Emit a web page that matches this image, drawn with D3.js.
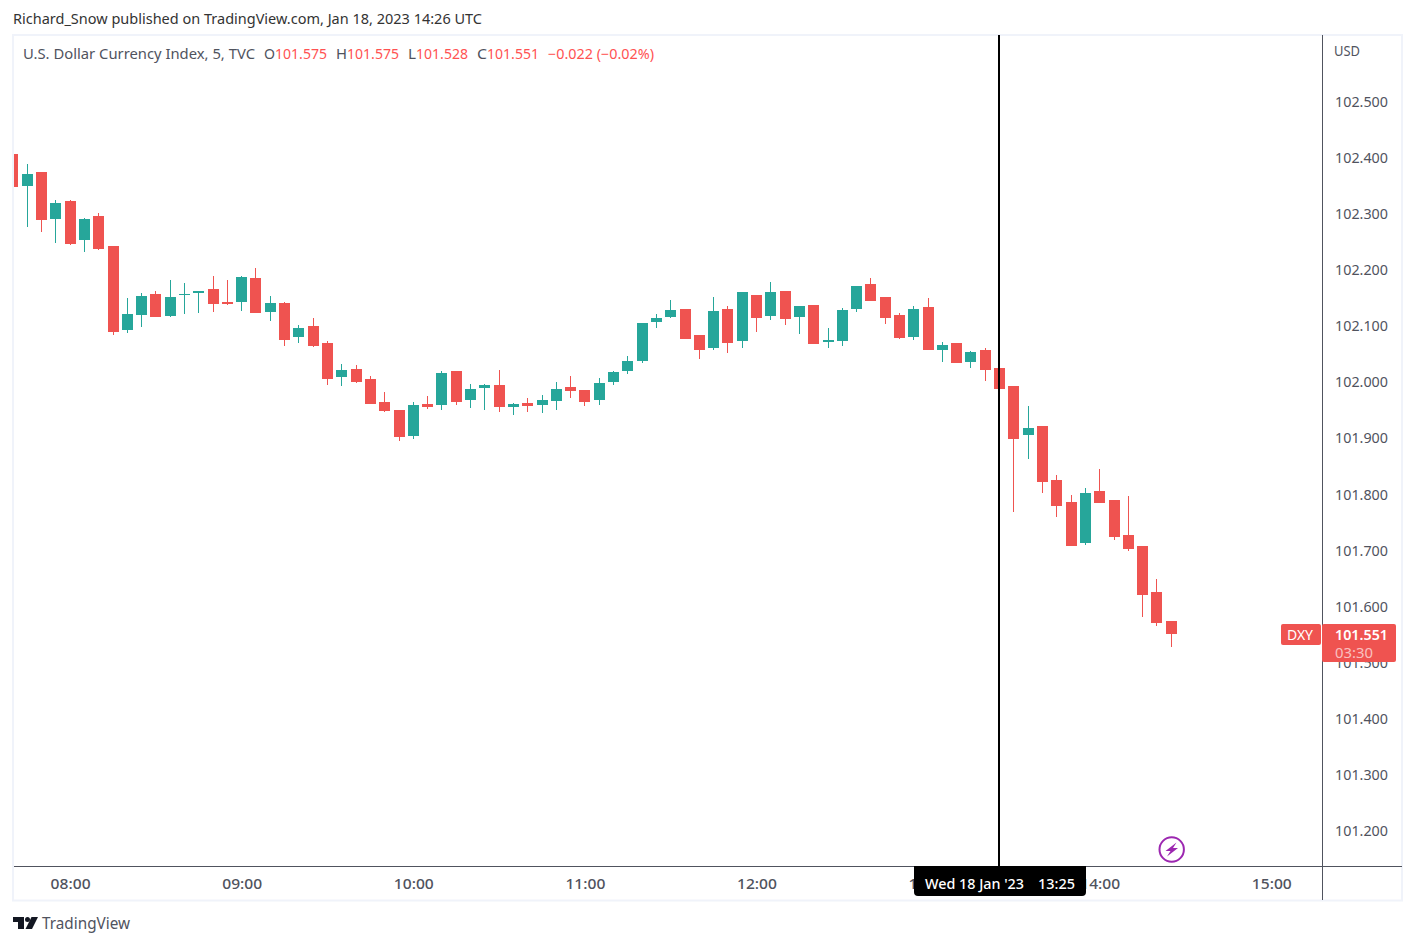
<!DOCTYPE html>
<html><head><meta charset="utf-8">
<script src="https://d3js.org/d3.v7.min.js"></script>
<style>html,body{margin:0;padding:0;background:#fff}svg{display:block}text{font-family:"Noto Sans",sans-serif}</style>
</head><body><svg id="c" width="1415" height="945"></svg>
<script>
const firstMinute = 460, stepMinutes = 5;
const opens = [102.406,102.349,102.374,102.290,102.322,102.253,102.296,102.242,102.093,102.119,102.157,102.118,102.155,102.159,102.166,102.142,102.142,102.185,102.125,102.141,102.080,102.100,102.069,102.009,102.023,102.005,101.964,101.950,101.904,101.961,101.959,102.020,101.968,101.989,101.995,101.955,101.963,101.959,101.966,101.991,101.986,101.968,102.000,102.020,102.037,102.107,102.116,102.130,102.084,102.061,102.130,102.073,102.155,102.118,102.162,102.116,102.137,102.071,102.073,102.130,102.175,102.151,102.119,102.080,102.134,102.057,102.069,102.036,102.057,102.025,101.993,101.906,101.922,101.825,101.786,101.713,101.806,101.790,101.728,101.708,101.626,101.575];
const highs = [102.406,102.388,102.374,102.324,102.324,102.292,102.301,102.242,102.150,102.159,102.162,102.182,102.176,102.162,102.189,102.182,102.189,102.203,102.153,102.142,102.102,102.114,102.073,102.032,102.030,102.011,101.982,101.950,101.964,101.975,102.020,102.020,101.996,101.996,102.021,101.963,101.972,101.977,102.000,102.011,101.986,102.007,102.020,102.046,102.105,102.121,102.146,102.130,102.084,102.151,102.135,102.160,102.155,102.178,102.162,102.135,102.137,102.096,102.132,102.171,102.185,102.151,102.123,102.135,102.150,102.071,102.069,102.055,102.061,102.028,101.993,101.957,101.922,101.834,101.799,101.811,101.845,101.790,101.797,101.708,101.649,101.575];
const lows = [102.347,102.276,102.267,102.248,102.244,102.232,102.235,102.084,102.087,102.098,102.116,102.116,102.121,102.123,102.125,102.137,102.126,102.123,102.109,102.064,102.069,102.062,101.995,101.993,101.998,101.961,101.947,101.895,101.898,101.952,101.950,101.959,101.954,101.950,101.947,101.941,101.947,101.945,101.950,101.972,101.957,101.959,101.995,102.014,102.034,102.096,102.114,102.077,102.041,102.057,102.052,102.061,102.089,102.110,102.102,102.085,102.068,102.061,102.064,102.125,102.144,102.103,102.077,102.075,102.057,102.036,102.034,102.025,102.002,101.964,101.768,101.863,101.802,101.760,101.708,101.710,101.784,101.719,101.699,101.581,101.565,101.528];
const closes = [102.347,102.370,102.289,102.319,102.246,102.290,102.237,102.089,102.121,102.153,102.116,102.151,102.157,102.162,102.139,102.139,102.187,102.123,102.141,102.075,102.096,102.064,102.005,102.021,102.000,101.961,101.948,101.902,101.959,101.955,102.016,101.964,101.988,101.995,101.955,101.961,101.957,101.968,101.988,101.984,101.964,101.998,102.018,102.037,102.105,102.114,102.128,102.077,102.057,102.126,102.069,102.160,102.114,102.160,102.112,102.135,102.068,102.075,102.128,102.171,102.144,102.114,102.078,102.130,102.057,102.066,102.034,102.053,102.021,101.988,101.898,101.918,101.822,101.779,101.708,101.802,101.784,101.724,101.703,101.621,101.571,101.551];
const priceTicks = [102.5,102.4,102.3,102.2,102.1,102.0,101.9,101.8,101.7,101.6,101.5,101.4,101.3,101.2];
const timeTicks = [480,540,600,660,720,780,840,900];
const timeTickLabels = ["08:00","09:00","10:00","11:00","12:00","13:00","14:00","15:00"];
const crosshairMinute = 805;
const lastPrice = 101.551;

const UP = "#26a69a", DOWN = "#ef5350", AXIS = "#50535e";
const svg = d3.select("#c");
const x = d3.scaleLinear().domain([460,900]).range([12.9,1271.3]);
const y = d3.scaleLinear().domain([102,101.2]).range([382,831.2]);
const bars = opens.map((o,i)=>({minute:firstMinute+i*stepMinutes,o,h:highs[i],l:lows[i],c:closes[i]}));

// frame
svg.append("rect").attr("x",13).attr("y",35).attr("width",1389).attr("height",865.5)
  .attr("fill","#fff").attr("stroke","#f0f3fa").attr("stroke-width",2);

svg.append("text").attr("x",13).attr("y",24).attr("font-size",14).attr("fill","#333")
  .attr("textLength",469).attr("lengthAdjust","spacingAndGlyphs")
  .text("Richard_Snow published on TradingView.com, Jan 18, 2023 14:26 UTC");

svg.append("defs").append("clipPath").attr("id","pane").append("rect")
  .attr("x",14).attr("y",35).attr("width",1308).attr("height",831);
const pane = svg.append("g").attr("clip-path","url(#pane)").attr("shape-rendering","crispEdges");
const g = pane.selectAll("g").data(bars).join("g")
  .attr("fill",d=>d.c>=d.o?UP:DOWN);
const left = d=>Math.round(x(d.minute)-5.5);
g.append("rect").attr("x",d=>left(d)+5).attr("width",1)
  .attr("y",d=>Math.round(y(d.h))).attr("height",d=>Math.round(y(d.l))-Math.round(y(d.h)));
g.append("rect").attr("x",left).attr("width",11)
  .attr("y",d=>Math.round(y(Math.max(d.o,d.c))))
  .attr("height",d=>Math.max(1,Math.round(y(Math.min(d.o,d.c)))-Math.round(y(Math.max(d.o,d.c)))));

// crosshair
svg.append("rect").attr("x",Math.floor(x(crosshairMinute))-1).attr("y",35).attr("width",2).attr("height",831).attr("fill","#000");

// axes lines
svg.append("rect").attr("x",1322).attr("y",35).attr("width",1).attr("height",865).attr("fill",AXIS);
svg.append("rect").attr("x",14).attr("y",866).attr("width",1388).attr("height",1).attr("fill",AXIS);

// price axis
const yAxis = d3.axisRight(y).tickValues(priceTicks).tickSize(0).tickPadding(0).tickFormat(d3.format(".3f"));
const ya = svg.append("g").attr("transform","translate(1335,0.3)").call(yAxis);
ya.select(".domain").remove();
ya.selectAll("text").attr("font-size",14).attr("fill",AXIS).attr("textLength",53).attr("lengthAdjust","spacingAndGlyphs").style("font-family",'"Noto Sans",sans-serif');
svg.append("text").attr("x",1334).attr("y",55.5).attr("font-size",14).attr("fill",AXIS).attr("textLength",26).attr("lengthAdjust","spacingAndGlyphs").text("USD");

// time axis
const xAxis = d3.axisBottom(x).tickValues(timeTicks).tickSize(0).tickPadding(0).tickFormat((d,i)=>timeTickLabels[i]);
const xa = svg.append("g").attr("transform","translate(0,878)").call(xAxis);
xa.select(".domain").remove();
xa.selectAll("text").attr("font-size",15).attr("font-weight",500).attr("fill",AXIS).attr("textLength",40).attr("lengthAdjust","spacingAndGlyphs").style("font-family",'"Noto Sans",sans-serif');

// legend
const legendParts = [
 ["U.S. Dollar Currency Index, 5, TVC",23,232,AXIS],
 ["O",264,11,AXIS],["101.575",275,52,"#ff5252"],
 ["H",336,11,AXIS],["101.575",347,52,"#ff5252"],
 ["L",408,8,AXIS],["101.528",416,52,"#ff5252"],
 ["C",477,10,AXIS],["101.551",487,52,"#ff5252"],
 ["−0.022 (−0.02%)",548,106,"#ff5252"]];
svg.append("g").selectAll("text").data(legendParts).join("text")
 .attr("x",d=>d[1]).attr("y",59).attr("font-size",14).attr("fill",d=>d[3])
 .attr("textLength",d=>d[2]).attr("lengthAdjust","spacingAndGlyphs").text(d=>d[0]);

// price tags
const tagY = y(lastPrice);
svg.append("rect").attr("x",1281).attr("y",tagY-10).attr("width",40).attr("height",21).attr("rx",2).attr("fill",DOWN);
svg.append("text").attr("x",1300).attr("y",tagY+5.5).attr("text-anchor","middle").attr("font-size",14).attr("fill","#fff").text("DXY");
svg.append("rect").attr("x",1322).attr("y",tagY-10).attr("width",74).attr("height",38).attr("rx",2).attr("fill",DOWN);
svg.append("text").attr("x",1335).attr("y",tagY+5.5).attr("font-size",14).attr("font-weight",600).attr("fill","#fff").attr("textLength",53).attr("lengthAdjust","spacingAndGlyphs").text(d3.format(".3f")(lastPrice));
svg.append("text").attr("x",1335).attr("y",tagY+23.5).attr("font-size",14).attr("fill","#fff").attr("fill-opacity",.65).attr("textLength",38).attr("lengthAdjust","spacingAndGlyphs").text("03:30");

// date tag
svg.append("path").attr("d","M914 866H1086V892a4 4 0 0 1-4 4H918a4 4 0 0 1-4-4Z").attr("fill","#000");
svg.append("text").attr("x",925).attr("y",889).attr("font-size",14).attr("font-weight",500).attr("fill","#fff").attr("textLength",99).attr("lengthAdjust","spacingAndGlyphs").text("Wed 18 Jan '23");
svg.append("text").attr("x",1038).attr("y",889).attr("font-size",14).attr("font-weight",500).attr("fill","#fff").attr("textLength",37).attr("lengthAdjust","spacingAndGlyphs").text("13:25");

// bolt icon
svg.append("circle").attr("cx",1171.7).attr("cy",849.5).attr("r",12.2).attr("fill","#fff").attr("stroke","#9c27b0").attr("stroke-width",2);
svg.append("path").attr("d","M1176.5 842.5L1165.5 851H1170.5L1167 856.5L1178 848H1173Z").attr("fill","#9c27b0");

// logo
const logo = svg.append("g").attr("fill","#131722");
logo.append("path").attr("d","M13 917H24V929H18V922H13Z");
logo.append("circle").attr("cx",27.5).attr("cy",919.5).attr("r",2.5);
logo.append("path").attr("d","M31.5 917H38L32 929H25.5Z");
svg.append("text").attr("x",42).attr("y",929).attr("font-size",15.5).attr("fill","#50535e").attr("textLength",88).attr("lengthAdjust","spacingAndGlyphs").text("TradingView");
</script></body></html>
